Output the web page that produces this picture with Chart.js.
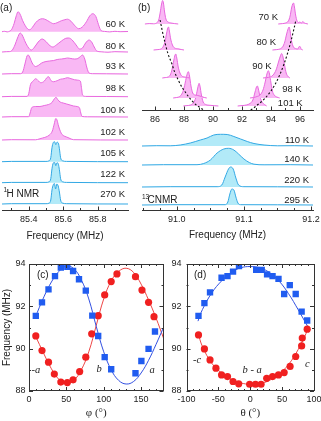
<!DOCTYPE html>
<html><head><meta charset="utf-8">
<script src="https://cdn.jsdelivr.net/npm/chart.js@4.4.1/dist/chart.umd.min.js"></script>
<style>
html,body{margin:0;padding:0;background:#fff;width:321px;height:421px;overflow:hidden;position:relative}
canvas{position:absolute}
</style></head><body>
<canvas id="ca" width="140" height="245" style="left:0;top:0"></canvas>
<canvas id="cbt" width="191" height="128" style="left:130px;top:0"></canvas>
<canvas id="cbb" width="191" height="125" style="left:130px;top:120px"></canvas>
<canvas id="cc" width="168" height="171" style="left:0;top:250px"></canvas>
<canvas id="cd" width="153" height="171" style="left:168px;top:250px"></canvas>
<script>
// ---------- Panel (a): 1H NMR spectra [frequency MHz, intensity] ----------
const aTemps = ['60 K','80 K','93 K','98 K','100 K','102 K','105 K','122 K','270 K'];
const aOffsets = [178.3,158,136,113.3,93,70,48.3,27.3,6];
const aSpec60 = [[85.245,0],[85.26,0.4],[85.275,-0.2],[85.29,0.6],[85.30,2],[85.315,8],[85.328,16],[85.338,20],[85.35,17.5],[85.365,11],[85.38,6],[85.395,2.5],[85.405,2],[85.42,4],[85.44,9],[85.46,12],[85.48,13],[85.50,12],[85.52,10],[85.545,8],[85.565,9],[85.59,11],[85.61,12],[85.625,12.5],[85.645,10.5],[85.665,6.5],[85.69,3],[85.71,4.5],[85.735,10],[85.755,16],[85.772,18],[85.79,15],[85.805,7],[85.82,1],[85.84,0.3],[85.87,-0.2],[85.9,0.4],[85.93,0],[85.976,0.2]];
const aSpec80 = [[85.245,0],[85.27,0.3],[85.29,0.4],[85.305,2],[85.32,7],[85.335,14],[85.35,19],[85.362,17],[85.38,10],[85.40,4],[85.415,2],[85.43,4],[85.455,10],[85.478,13],[85.50,10.5],[85.525,6],[85.54,5],[85.56,7],[85.59,11],[85.612,13.5],[85.632,14],[85.652,12],[85.675,7],[85.695,3],[85.712,4],[85.73,9],[85.75,12],[85.765,10],[85.78,5],[85.795,1],[85.82,0.2],[85.86,-0.2],[85.9,0.3],[85.976,0]];
const aSpec93 = [[85.245,0],[85.3,0.3],[85.35,0.3],[85.365,2],[85.378,10],[85.39,18],[85.397,19],[85.408,16],[85.42,11],[85.44,7.5],[85.455,8.5],[85.475,11],[85.50,12.5],[85.52,13],[85.545,13.5],[85.565,14.5],[85.59,15],[85.61,15.5],[85.625,16],[85.645,15.5],[85.665,15],[85.685,15.5],[85.70,17.5],[85.712,19],[85.725,15],[85.738,6],[85.75,1],[85.77,0.3],[85.85,0.2],[85.976,0]];
const aSpec98 = [[85.245,0],[85.3,0.3],[85.39,0.3],[85.40,3],[85.41,12],[85.425,15.5],[85.44,18],[85.455,16],[85.47,14],[85.49,15.5],[85.505,19],[85.515,20],[85.53,16],[85.545,15],[85.565,16],[85.585,17.5],[85.605,18],[85.625,19],[85.645,18],[85.665,17],[85.685,16.5],[85.70,15.5],[85.706,9],[85.713,1.5],[85.73,0.3],[85.85,0.2],[85.976,0]];
const aSpec100 = [[85.245,0],[85.3,0.3],[85.40,0.3],[85.408,4],[85.418,9.5],[85.44,10.5],[85.465,10.5],[85.49,11.5],[85.515,12.5],[85.535,14.5],[85.548,18],[85.558,19.7],[85.568,17.5],[85.582,15],[85.60,14],[85.62,13],[85.64,12],[85.66,11],[85.68,10.5],[85.695,9],[85.702,4],[85.71,0.5],[85.74,0.2],[85.976,0]];
const aSpec102 = [[85.245,0],[85.3,0.3],[85.44,0.2],[85.46,1],[85.48,2],[85.50,3],[85.52,5],[85.537,9],[85.548,16],[85.557,21.5],[85.564,20],[85.573,14],[85.588,7],[85.60,4.5],[85.62,3],[85.64,1.5],[85.66,0.3],[85.976,0]];
const aSpec105 = [[85.245,0],[85.3,0.3],[85.5,0.3],[85.52,1],[85.528,4],[85.535,14],[85.542,19],[85.55,20],[85.557,17],[85.564,19.5],[85.572,18.5],[85.578,13],[85.585,4],[85.595,1],[85.62,0.3],[85.976,0]];
const aSpec122 = [[85.245,0],[85.3,0.3],[85.5,0.3],[85.52,1],[85.528,4],[85.535,14],[85.542,19.5],[85.55,20.4],[85.557,17],[85.564,20],[85.572,18.5],[85.578,13],[85.585,4],[85.595,1],[85.62,0.3],[85.976,0]];
const aSpec270 = [[85.245,0],[85.3,0.3],[85.5,0.3],[85.52,1],[85.528,4],[85.535,14],[85.542,19],[85.549,20.5],[85.556,15],[85.563,20],[85.571,18],[85.578,12],[85.585,4],[85.595,1],[85.62,0.3],[85.976,0]];
const aTickValues = [85.4,85.6,85.8];
const aTickLabels = ['85.4','85.6','85.8'];
const aMinorTicks = [85.3,85.5,85.7,85.9];

// ---------- Panel (b) top: 13C NMR low-T spectra (left / right lines) ----------
const bTopTemps = ['70 K','80 K','90 K','98 K','101 K'];
const bTopOffsets = [86,60,32,12,4];
const b70L = [[85.3,0],[85.6,0.4],[85.9,0.2],[86.1,1],[86.25,4],[86.35,11],[86.45,20],[86.52,23.5],[86.58,21],[86.66,12],[86.75,5],[86.9,2],[87.1,1],[87.35,0.4],[87.6,0]];
const b70R = [[94.5,0],[94.8,0.4],[95.0,1],[95.2,3],[95.32,8],[95.42,16],[95.5,20],[95.56,21],[95.62,17],[95.7,9],[95.8,3],[95.9,1.5],[96.0,2],[96.1,1],[96.2,2.5],[96.3,1],[96.4,0.5],[96.55,0]];
const b80L = [[85.9,0],[86.2,0.4],[86.4,1],[86.55,3],[86.7,9],[86.8,17],[86.88,22],[86.93,23],[86.99,19],[87.08,11],[87.2,5],[87.35,2],[87.6,1.2],[87.8,0.5],[88.0,0]];
const b80R = [[94.1,0],[94.4,0.4],[94.6,1],[94.8,3],[94.95,8],[95.08,16],[95.18,21],[95.25,23],[95.32,19],[95.42,9],[95.55,3],[95.7,1.5],[95.85,1],[95.95,3.5],[96.02,3.3],[96.08,1],[96.2,0]];
const b90L = [[86.5,0],[86.7,0.4],[86.9,1],[87.05,3],[87.18,9],[87.3,18],[87.38,23],[87.43,24],[87.5,20],[87.6,11],[87.72,5],[87.85,2],[88.05,1],[88.25,0.4],[88.4,0]];
const b90R = [[93.45,0],[93.7,0.4],[93.95,1],[94.15,3],[94.35,8],[94.52,16],[94.65,22],[94.74,24.5],[94.83,21],[94.95,12],[95.05,5],[95.15,2],[95.3,0]];
const b98L = [[87.25,0],[87.5,0.5],[87.7,1.5],[87.85,4],[88.0,10],[88.15,20],[88.25,25.5],[88.3,26.3],[88.38,22],[88.48,12],[88.6,5],[88.75,3],[88.95,2.5],[89.2,1.5],[89.4,0.5],[89.57,0]];
const b98R = [[92.55,0],[92.8,0.5],[93.05,1.5],[93.25,3],[93.45,8],[93.6,16],[93.72,24],[93.82,27.3],[93.9,24],[94.0,15],[94.1,7],[94.22,3],[94.4,1],[94.6,0]];
const b101L = [[87.95,0],[88.2,0.4],[88.45,1],[88.65,3],[88.8,8],[88.93,17],[89.0,21.5],[89.04,22.7],[89.1,20],[89.2,11],[89.32,4],[89.5,1.5],[89.8,0.7],[90.1,0.3],[90.37,0]];
const b101R = [[91.7,0],[92.0,0.4],[92.3,1],[92.55,2.5],[92.75,6],[92.9,14],[93.0,19],[93.06,20],[93.13,17],[93.25,9],[93.38,4],[93.55,1.5],[93.7,0]];
const bGuideL = [[86.35,90],[86.5,79],[86.7,66.7],[86.9,56],[87.15,46.7],[87.35,38],[87.6,30],[87.85,23],[88.07,18.3],[88.3,13.5],[88.5,10],[88.8,5.5],[89.1,2.5],[89.35,0]];
const bGuideR = [[92.6,0],[92.85,2.5],[93.1,5.5],[93.4,9],[93.7,13.5],[94.0,19],[94.3,26],[94.6,35],[94.9,46],[95.15,57],[95.4,70],[95.6,82],[95.72,90]];
const bTopTickValues = [86,88,90,92,94,96];
const bTopTickLabels = ['86','88','90','92','94','96'];
const bTopMinorTicks = [87,89,91,93,95];

// ---------- Panel (b) bottom: 13C NMR high-T spectra ----------
const bBotTemps = ['110 K','140 K','220 K','295 K'];
const bBotOffsets = [64,45,23,5];
const b110 = [[90.948,0],[90.97,0.3],[90.99,0.2],[91.005,1],[91.02,3],[91.035,6],[91.045,8],[91.055,11],[91.065,11.7],[91.075,11.5],[91.085,9.5],[91.095,7],[91.105,4.5],[91.115,2.5],[91.13,1],[91.15,0.2],[91.175,0.3],[91.203,0]];
const b140 = [[90.948,0],[90.98,0.3],[91.03,0.3],[91.04,1.5],[91.05,5],[91.06,12],[91.07,16],[91.077,16.7],[91.085,15],[91.092,11],[91.1,6],[91.108,2.5],[91.115,0.8],[91.13,0.2],[91.17,0.3],[91.203,0]];
const b220 = [[90.948,0],[90.99,0.3],[91.06,0.3],[91.067,2],[91.072,10],[91.077,18],[91.08,20],[91.084,18],[91.088,9],[91.092,2],[91.1,0.3],[91.15,0.2],[91.203,0]];
const b295 = [[90.948,0],[90.99,0.3],[91.072,0.3],[91.076,3],[91.079,11],[91.082,16],[91.085,15],[91.088,8],[91.091,2],[91.095,0.3],[91.15,0.2],[91.203,0]];
const bBotTickValues = [91.0,91.1,91.2];
const bBotTickLabels = ['91.0','91.1','91.2'];
const bBotMinorTicks = [90.95,90.975,91.025,91.05,91.075,91.125,91.15,91.175];

// ---------- Panel (c): frequency vs phi ----------
const cPhiBlue = [9.1,17.4,26.1,34.8,42.6,51.3,59,66.9,76,84.7,92.6,101.3,110,142.5,150.4,160,168.6];
const cFreqBlue = [91.55,92.19,92.8,93.43,93.83,93.87,93.67,93.28,92.74,91.56,90.6,89.6,89.03,88.84,89.42,89.99,90.81];
const cPhiRed = [9.1,17.4,26.1,33.9,42.6,51.3,59,67.8,76,83.9,92.6,101.3,110,117.7,142.5,151.2,160,167.3];
const cFreqRed = [90.6,89.91,89.36,88.8,88.42,88.4,88.53,88.92,89.6,90.7,91.56,92.54,93.17,93.53,93.4,92.77,92.19,91.51];
const cFitPhi = [8,20,30,40,50,60,70,80,90,100,110,120,130,140,150,160,170,180];
const cFitBlue = [91.45,92.45,93.15,93.65,93.9,93.78,93.25,92.35,91.05,89.85,89.0,88.5,88.33,88.45,88.85,89.45,90.2,91.0];
const cFitRed = [90.65,89.75,89.05,88.55,88.35,88.5,89.0,89.85,91.1,92.35,93.2,93.65,93.8,93.6,93.05,92.3,91.45,90.5];
const cXTicks = [0,50,100,150], cXLabels = ['0','50','100','150'];
const cXMinor = [10,20,30,40,60,70,80,90,110,120,130,140,160,170];
const cYTicks = [88,90,92,94], cYLabels = ['88','90','92','94'];
const cYMinor = [89,91,93];

// ---------- Panel (d): frequency vs theta ----------
const dThetaBlue = [-81.2,-71.9,-63.1,-45,-35.7,-27,-17.7,9.3,18,26.4,35,44.3,53.2,62,71.3,80.6,89.3];
const dFreqBlue = [91.55,92.15,92.66,93.35,93.43,93.64,93.9,93.72,93.72,93.51,93.43,93.3,92.58,93.0,92.58,91.75,91.33];
const dThetaRed = [-81.2,-71.9,-63.1,-53.8,-45,-35.7,-27,-18.1,-1,8.2,17,25.8,35,44.3,53.2,62.5,71.3,80.6,81.6,89.3];
const dFreqRed = [90.65,89.99,89.47,89.08,88.76,88.68,88.45,88.34,88.32,88.32,88.32,88.6,88.68,88.76,88.87,89.16,89.63,90.13,90.5,90.92];
const dFitTheta = [-82,-75,-60,-45,-30,-15,0,15,30,45,60,75,92];
const dFitBlue = [91.3,91.85,92.65,93.2,93.6,93.82,93.88,93.82,93.6,93.2,92.6,91.85,90.95];
const dFitRed = [90.75,90.1,89.3,88.85,88.55,88.38,88.32,88.35,88.5,88.8,89.25,89.95,91.0];
const dXTicks = [-100,-50,0,50,100], dXLabels = ['-100','-50','0','50','100'];
const dXMinor = [-90,-80,-70,-60,-40,-30,-20,-10,10,20,30,40,60,70,80,90];
const dYTicks = [88,90,92,94], dYLabels = ['88','90','92','94'];
const dYMinor = [89,91,93];

// ---------- styling ----------
const SANS = "'Liberation Sans', Arial, sans-serif";
const SERIF = "'Liberation Serif', 'Times New Roman', serif";
const PINK_LINE = 'rgb(232,104,222)', PINK_FILL = 'rgb(249,184,244)';
const BLUE_LINE = 'rgb(50,168,228)', BLUE_FILL = 'rgb(178,234,248)';
const TXT = '#222';

function spectrum(pts, offset, line, fillc) {
  return { data: pts.map(p => ({x: p[0], y: p[1] + offset})), showLine: true,
    borderColor: line, backgroundColor: fillc, borderWidth: 1, pointRadius: 0,
    fill: {value: offset}, cubicInterpolationMode: 'monotone', order: 1 };
}
function xyPairs(xs, ys) { return xs.map((x, i) => ({x, y: ys[i]})); }

function xAxis(min, max, ticks, labels, height, pad, title, titlePad) {
  return { type: 'linear', position: 'bottom', min, max,
    afterBuildTicks: s => { s.ticks = ticks.map(v => ({value: v})); },
    afterFit: s => { s.height = height; s.paddingLeft = 0; s.paddingRight = 0; },
    grid: {display: false, drawTicks: false},
    border: {display: !!title && title.border !== false, color: '#333', width: 1},
    ticks: {autoSkip: false, maxRotation: 0, padding: pad, color: TXT,
      font: {family: SANS, size: 9}, callback: (v, i) => labels[i]},
    title: title && title.text ? {display: true, text: title.text, color: TXT,
      font: {family: title.family || SANS, size: title.size || 10},
      padding: {top: 0, bottom: titlePad}} : {display: false}
  };
}
function yAxis(min, max, ticks, labels, width, pad, title) {
  return { type: 'linear', position: 'left', min, max,
    afterBuildTicks: s => { s.ticks = ticks.map(v => ({value: v})); },
    afterFit: s => { s.width = width; s.paddingTop = 0; s.paddingBottom = 0; },
    grid: {display: false, drawTicks: false}, border: {display: false},
    ticks: {autoSkip: false, padding: pad, color: TXT, font: {family: SANS, size: 9},
      callback: (v, i) => labels[i]},
    title: title ? {display: true, text: title, color: TXT, font: {family: SANS, size: 10},
      padding: {top: 1.5, bottom: 0}} : {display: false}
  };
}
function tickPlugin(list, frame) {
  return { id: 'inTicks', afterDatasetsDraw(chart) {
    const ctx = chart.ctx, ca = chart.chartArea;
    ctx.save(); ctx.strokeStyle = '#333'; ctx.lineWidth = 1; ctx.beginPath();
    for (const a of list) {
      const sc = chart.scales[a.axis];
      for (const [vals, len] of [[a.major, a.majorLen], [a.minor, a.minorLen]]) {
        for (const v of vals) {
          const p = Math.round(sc.getPixelForValue(v)) + 0.5;
          if (sc.isHorizontal()) {
            ctx.moveTo(p, ca.bottom); ctx.lineTo(p, ca.bottom - len);
            if (a.mirror) { ctx.moveTo(p, ca.top); ctx.lineTo(p, ca.top + len); }
          } else {
            ctx.moveTo(ca.left, p); ctx.lineTo(ca.left + len, p);
            if (a.mirror) { ctx.moveTo(ca.right, p); ctx.lineTo(ca.right - len, p); }
          }
        }
      }
    }
    ctx.stroke();
    if (frame) ctx.strokeRect(Math.round(ca.left) + 0.5, Math.round(ca.top) + 0.5,
      Math.round(ca.right - ca.left) - 1, Math.round(ca.bottom - ca.top) - 1);
    ctx.restore();
  }};
}
function textPlugin(items, ox, oy) {
  return { id: 'texts', afterDraw(chart) {
    const ctx = chart.ctx; ctx.save(); ctx.textBaseline = 'middle';
    for (const it of items) {
      ctx.font = it.font; ctx.fillStyle = it.color || TXT; ctx.textAlign = it.align || 'left';
      ctx.fillText(it.t, it.x - ox, it.y - oy);
    }
    ctx.restore();
  }};
}
function base(padding) {
  return { responsive: false, animation: false, devicePixelRatio: 1, events: [],
    layout: {padding}, plugins: {legend: {display: false}, tooltip: {enabled: false}} };
}
const F10 = '10px ' + SANS, F95 = '9.5px ' + SANS, FSUP = '6.5px ' + SANS, FIT = 'italic 10.5px ' + SERIF;

// ---------- Chart (a) ----------
const aSpectra = [aSpec60, aSpec80, aSpec93, aSpec98, aSpec100, aSpec102, aSpec105, aSpec122, aSpec270];
{
  const o = base({left: 2, right: 12, top: 0, bottom: 0});
  o.scales = { x: xAxis(85.245, 85.976, aTickValues, aTickLabels, 35, 4.6, {text: 'Frequency (MHz)'}, 3),
               y: {display: false, min: 0, max: 210} };
  const labelY = [24, 46, 66.5, 88.5, 110, 132.5, 153.5, 174.5, 194.5];
  const texts = [{t: '(a)', x: 0, y: 8, font: F10}, {t: '1', x: 3.5, y: 190.5, font: FSUP}, {t: 'H NMR', x: 6.5, y: 194.5, font: F10}]
    .concat(aTemps.map((t, i) => ({t, x: 125, y: labelY[i], font: F95, align: 'right'})));
  new Chart(document.getElementById('ca'), { type: 'scatter',
    data: {datasets: aSpectra.map((s, i) => spectrum(s, aOffsets[i], i < 6 ? PINK_LINE : BLUE_LINE, i < 6 ? PINK_FILL : BLUE_FILL))},
    options: o,
    plugins: [tickPlugin([{axis: 'x', major: aTickValues, minor: aMinorTicks, majorLen: 3.5, minorLen: 2}], false), textPlugin(texts, 0, 0)] });
}

// ---------- Chart (b) top ----------
{
  const pairs = [[b70L, b70R], [b80L, b80R], [b90L, b90R], [b98L, b98R], [b101L, b101R]];
  const ds = [];
  ds.push({data: bGuideL.map(p => ({x: p[0], y: p[1]})), showLine: true, borderColor: '#111', borderWidth: 1.1, borderDash: [2, 2], pointRadius: 0, fill: false, cubicInterpolationMode: 'monotone', order: 0});
  ds.push({data: bGuideR.map(p => ({x: p[0], y: p[1]})), showLine: true, borderColor: '#111', borderWidth: 1.1, borderDash: [2, 2], pointRadius: 0, fill: false, cubicInterpolationMode: 'monotone', order: 0});
  pairs.forEach((pr, i) => { ds.push(spectrum(pr[0], bTopOffsets[i], PINK_LINE, PINK_FILL)); ds.push(spectrum(pr[1], bTopOffsets[i], PINK_LINE, PINK_FILL)); });
  const o = base({left: 12, right: 8, top: 0, bottom: 0});
  o.scales = { x: xAxis(85.1, 96.9, bTopTickValues, bTopTickLabels, 18, 4, {border: true}, 0),
               y: {display: false, min: 0, max: 110} };
  o.scales.x.border.display = true;
  const lx = [278, 276, 271.7, 301.7, 302.7], ly = [17.3, 42.7, 66, 89.3, 103.3];
  const texts = [{t: '(b)', x: 138, y: 8, font: F10}].concat(bTopTemps.map((t, i) => ({t, x: lx[i], y: ly[i], font: F95, align: 'right'})));
  new Chart(document.getElementById('cbt'), { type: 'scatter', data: {datasets: ds}, options: o,
    plugins: [tickPlugin([{axis: 'x', major: bTopTickValues, minor: bTopMinorTicks, majorLen: 3.5, minorLen: 2}], false), textPlugin(texts, 130, 0)] });
}

// ---------- Chart (b) bottom ----------
{
  const specs = [b110, b140, b220, b295];
  const o = base({left: 12, right: 8, top: 5, bottom: 0});
  o.scales = { x: xAxis(90.948, 91.203, bBotTickValues, bBotTickLabels, 35, 4.6, {text: 'Frequency (MHz)'}, 4),
               y: {display: false, min: 0, max: 85} };
  const ly = [140, 159, 180, 200.5];
  const texts = [{t: '13', x: 142, y: 197, font: FSUP}, {t: 'CNMR', x: 147.5, y: 200.5, font: F10}]
    .concat(bBotTemps.map((t, i) => ({t, x: 309, y: ly[i], font: F95, align: 'right'})));
  new Chart(document.getElementById('cbb'), { type: 'scatter',
    data: {datasets: specs.map((s, i) => spectrum(s, bBotOffsets[i], BLUE_LINE, BLUE_FILL))}, options: o,
    plugins: [tickPlugin([{axis: 'x', major: bBotTickValues, minor: bBotMinorTicks, majorLen: 3.5, minorLen: 2}], false), textPlugin(texts, 130, 120)] });
}

// ---------- Charts (c), (d) ----------
const BLUE_PT = 'rgb(32,92,240)', RED_PT = 'rgb(240,32,32)';
const BLUE_LN = 'rgb(50,80,225)', RED_LN = 'rgb(238,70,70)';
function angleDatasets(bx, by, rx, ry, fx, fb, fr) {
  return [
    {data: xyPairs(bx, by), pointStyle: 'rect', pointRadius: 4.5, backgroundColor: BLUE_PT, borderColor: BLUE_PT, borderWidth: 0, order: 0},
    {data: xyPairs(rx, ry), pointStyle: 'circle', pointRadius: 3.6, backgroundColor: RED_PT, borderColor: RED_PT, borderWidth: 0, order: 0},
    {data: xyPairs(fx, fb), showLine: true, pointRadius: 0, borderColor: BLUE_LN, borderWidth: 1, tension: 0.4, fill: false, order: 1},
    {data: xyPairs(fx, fr), showLine: true, pointRadius: 0, borderColor: RED_LN, borderWidth: 1, tension: 0.4, fill: false, order: 1}
  ];
}
{
  const o = base({left: 0, right: 2, top: 14, bottom: 0});
  o.scales = { x: xAxis(0, 180, cXTicks, cXLabels, 30, 3, {text: 'φ (°)', family: SERIF, size: 11, border: false}, 1),
               y: yAxis(88, 94, cYTicks, cYLabels, 29, 3.5, 'Frequency (MHz)') };
  o.scales.x.border.display = false;
  const texts = [{t: '(c)', x: 37, y: 275, font: F10}, {t: '-a', x: 31.5, y: 370, font: FIT}, {t: 'b', x: 96.5, y: 369, font: FIT}, {t: 'a', x: 149.5, y: 370, font: FIT}];
  new Chart(document.getElementById('cc'), { type: 'scatter',
    data: {datasets: angleDatasets(cPhiBlue, cFreqBlue, cPhiRed, cFreqRed, cFitPhi, cFitBlue, cFitRed)}, options: o,
    plugins: [tickPlugin([{axis: 'x', major: cXTicks, minor: cXMinor, majorLen: 4, minorLen: 2, mirror: true},
                          {axis: 'y', major: cYTicks, minor: cYMinor, majorLen: 4, minorLen: 2, mirror: true}], true), textPlugin(texts, 0, 250)] });
}
{
  const o = base({left: 0, right: 7, top: 14, bottom: 0});
  o.scales = { x: xAxis(-100, 100, dXTicks, dXLabels, 30, 3, {text: 'θ (°)', family: SERIF, size: 11}, 1),
               y: yAxis(88, 94, dYTicks, dYLabels, 18.5, 5, null) };
  o.scales.x.border.display = false;
  const texts = [{t: '(d)', x: 194, y: 275, font: F10}, {t: '-c', x: 193, y: 360, font: FIT}, {t: 'b - a', x: 242.5, y: 370, font: FIT}, {t: 'c', x: 305, y: 364.5, font: FIT}];
  new Chart(document.getElementById('cd'), { type: 'scatter',
    data: {datasets: angleDatasets(dThetaBlue, dFreqBlue, dThetaRed, dFreqRed, dFitTheta, dFitBlue, dFitRed)}, options: o,
    plugins: [tickPlugin([{axis: 'x', major: dXTicks, minor: dXMinor, majorLen: 4, minorLen: 2, mirror: true},
                          {axis: 'y', major: dYTicks, minor: dYMinor, majorLen: 4, minorLen: 2, mirror: true}], true), textPlugin(texts, 168, 250)] });
}
</script>
</body></html>
